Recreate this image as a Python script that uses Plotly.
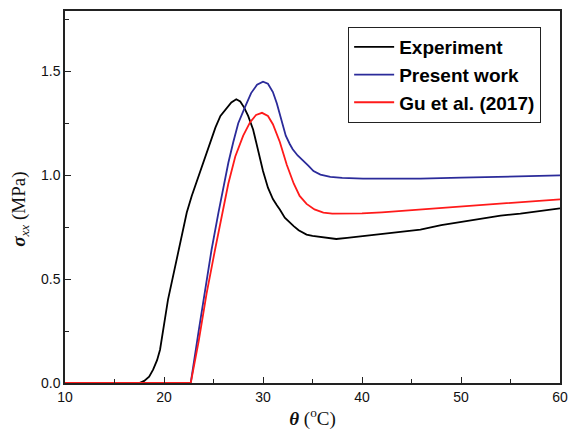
import plotly.graph_objects as go

theta_exp = [10, 17.5, 18.0, 18.5, 18.9, 19.3, 19.6, 19.9, 20.2, 20.4, 20.9, 21.4, 21.8, 22.3, 22.8, 23.4,
             24.0, 24.6, 25.2, 25.7, 26.3, 26.8, 27.3, 27.7, 28.1, 28.5, 29.0, 29.5, 30.0, 30.5, 31.0,
             31.4, 31.7, 32.2, 32.7, 33.1, 33.6, 34.4, 35.0, 35.8, 36.5, 37.4, 38.5, 40.1, 42, 44, 45.9,
             48, 50, 52, 54, 56, 58, 60]
sigma_exp = [0, 0, 0.01, 0.03, 0.064, 0.11, 0.16, 0.26, 0.34, 0.40, 0.51, 0.61, 0.71, 0.82, 0.90, 0.98,
             1.06, 1.14, 1.23, 1.285, 1.32, 1.35, 1.365, 1.355, 1.325, 1.285, 1.22, 1.12, 1.02, 0.94, 0.885,
             0.855, 0.835, 0.795, 0.77, 0.755, 0.735, 0.714, 0.708, 0.703, 0.698, 0.693, 0.698, 0.706, 0.715,
             0.725, 0.738, 0.76, 0.775, 0.79, 0.805, 0.815, 0.828, 0.84]

theta_present = [10, 22.7, 23.5, 24.3, 24.8, 25.5, 26.0, 26.5, 27.0, 27.5, 28.2, 28.8, 29.4, 30.0, 30.5,
                 31.0, 31.4, 31.7, 32.0, 32.3, 32.7, 33.0, 33.5, 34.1, 34.6, 35.1, 35.8, 36.8, 38, 40.1,
                 43, 45.9, 50, 55, 60]
sigma_present = [0, 0, 0.25, 0.5, 0.64, 0.82, 0.95, 1.06, 1.16, 1.25, 1.33, 1.395, 1.435, 1.45, 1.44,
                 1.40, 1.345, 1.29, 1.24, 1.19, 1.15, 1.125, 1.095, 1.07, 1.045, 1.02, 1.003, 0.992, 0.987,
                 0.983, 0.982, 0.983, 0.988, 0.993, 0.999]

theta_gu = [10, 22.7, 23.5, 24.3, 25.15, 25.8, 26.5, 27.2, 28.0, 28.7, 29.3, 29.9, 30.5, 31.0, 31.7, 32.4,
            33.1, 33.7, 34.4, 35.2, 36.1, 37, 38.4, 40, 42, 45.9, 50, 55, 60]
sigma_gu = [0, 0, 0.2, 0.43, 0.64, 0.80, 0.96, 1.09, 1.19, 1.255, 1.29, 1.30, 1.285, 1.245, 1.16, 1.05,
            0.96, 0.90, 0.862, 0.835, 0.82, 0.815, 0.814, 0.816, 0.821, 0.834, 0.848, 0.866, 0.884]

series = [
    ("Experiment", theta_exp, sigma_exp, "#000000"),
    ("Present work", theta_present, sigma_present, "#2b2b9a"),
    ("Gu et al. (2017)", theta_gu, sigma_gu, "#ff1a1a"),
]

fig = go.Figure()
for name, x, y, c in series:
    fig.add_trace(go.Scatter(x=x, y=y, mode="lines", name=name,
                             line=dict(color=c, width=1.8)))

axis_common = dict(showline=True, linecolor="#222222", linewidth=1.5, mirror=True,
                   ticks="inside", ticklen=6, tickwidth=1.2, tickcolor="#222222",
                   showgrid=False, zeroline=False, automargin=False,
                   tickfont=dict(family="Liberation Sans, Arial", size=14, color="#111111"))

fig.update_layout(
    width=568, height=435,
    margin=dict(l=65, r=8, t=11, b=52),
    paper_bgcolor="white", plot_bgcolor="white",
    xaxis=dict(range=[10, 60], dtick=10, tick0=10,
               minor=dict(ticks="inside", ticklen=4, dtick=5, tickcolor="#222222"),
               title=dict(text="<b><i>θ</i></b> (<sup>o</sup>C)",
                          font=dict(family="Liberation Serif, Times New Roman", size=19, color="#111111"),
                          standoff=8),
               **axis_common),
    yaxis=dict(range=[0, 1.79], dtick=0.5, tickformat=".1f",
               minor=dict(ticks="inside", ticklen=4, dtick=0.25, tickcolor="#222222"),
               **axis_common),
    annotations=[dict(text="<b><i>σ</i></b><sub><i>xx</i></sub> (MPa)",
                      xref="paper", yref="paper", x=-0.091, y=0.468,
                      xanchor="center", yanchor="middle", textangle=-90, showarrow=False,
                      font=dict(family="Liberation Serif, Times New Roman", size=19, color="#111111"))],
    legend=dict(x=0.572, y=0.957, xanchor="left", yanchor="top",
                bgcolor="white", bordercolor="#222222", borderwidth=1,
                font=dict(family="Liberation Sans, Arial", size=19, color="#000000", weight="bold"),
                tracegroupgap=0, itemwidth=40),
    showlegend=True,
)

fig.write_html("out.html")
